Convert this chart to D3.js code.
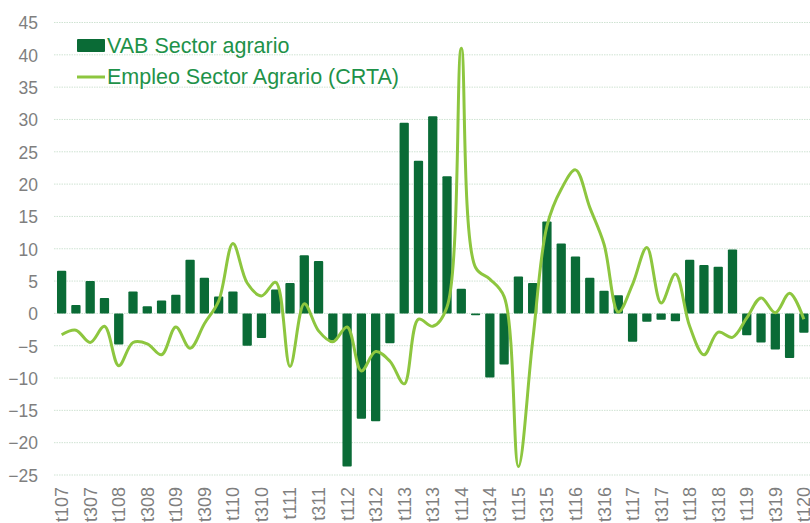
<!DOCTYPE html>
<html>
<head>
<meta charset="utf-8">
<script src="https://cdn.jsdelivr.net/npm/d3@7"></script>
<style>
  body { margin: 0; background: #fff; }
  svg { display: block; font-family: "Liberation Sans", Arial, sans-serif; }
</style>
</head>
<body>
<svg width="810" height="523"></svg>
<script>
var quarters = [
  't107','t207','t307','t407','t108','t208','t308','t408','t109','t209','t309','t409',
  't110','t210','t310','t410','t111','t211','t311','t411','t112','t212','t312','t412',
  't113','t213','t313','t413','t114','t214','t314','t414','t115','t215','t315','t415',
  't116','t216','t316','t416','t117','t217','t317','t417','t118','t218','t318','t418',
  't119','t219','t319','t419','t120'
];

// VAB Sector agrario (bars)
var vab = [
  6.6, 1.3, 5.0, 2.4, -4.8, 3.4, 1.1, 2.0, 2.9, 8.3, 5.5, 2.6,
  3.4, -5.0, -3.8, 3.7, 4.7, 9.0, 8.1, -4.2, -23.7, -16.3, -16.7, -4.6,
  29.5, 23.6, 30.5, 21.2, 3.8, -0.3, -9.9, -7.9, 5.7, 4.7, 14.2, 10.8,
  8.8, 5.5, 3.5, 2.8, -4.4, -1.3, -1.0, -1.2, 8.3, 7.5, 7.2, 9.9,
  -3.4, -4.5, -5.6, -6.9, -3.0
];

// Empleo Sector Agrario (CRTA) (line)
var empleo = [
  -3.3, -2.6, -4.5, -2.0, -8.1, -4.5, -4.7, -6.4, -2.1, -5.4, -1.6, 1.9,
  10.8, 4.7, 2.7, 4.8, -8.2, 1.5, -2.7, -4.4, -2.1, -8.9, -5.9, -7.4,
  -10.9, -0.9, -2.0, 1.0, 41.0, 7.1, 5.3, 2.6, -23.7, -4.3, 13.5, 19.2,
  22.2, 16.4, 10.7, 0.2, 4.5, 10.2, 1.6, 6.1, -2.0, -6.4, -2.9, -3.7,
  -0.7, 2.4, 0.1, 3.1, -0.9
];

var yTicks = [45, 40, 35, 30, 25, 20, 15, 10, 5, 0, -5, -10, -15, -20, -25];

var seriesNames = ['VAB Sector agrario', 'Empleo Sector Agrario (CRTA)'];

var barColor = '#0a6b36';
var lineColor = '#8dc63f';

var svg = d3.select('svg');

var x = d3.scaleBand()
    .domain(quarters)
    .range([54.5, 811])
    .paddingInner(0.35)
    .paddingOuter(0.175);

var y = d3.scaleLinear()
    .domain([-25, 45])
    .range([475, 22.5]);

// grid
svg.append('g')
    .selectAll('line')
    .data(yTicks)
    .enter()
    .append('line')
    .attr('x1', 54)
    .attr('x2', 810)
    .attr('y1', function (d) { return y(d); })
    .attr('y2', function (d) { return y(d); })
    .attr('stroke', '#cfe3d3')
    .attr('stroke-width', 1)
    .attr('stroke-dasharray', '1.5,1');

// y labels
var yAxis = d3.axisLeft(y).tickValues(yTicks).tickSize(0).tickPadding(0);
var gy = svg.append('g')
    .attr('transform', 'translate(38,0)')
    .call(yAxis);
gy.select('.domain').remove();
gy.selectAll('text')
    .attr('fill', '#7f7f7f')
    .style('font-size', '17.5px')
    .attr('dy', '0.36em');

// bars
svg.append('g')
    .selectAll('rect')
    .data(vab)
    .enter()
    .append('rect')
    .attr('x', function (d, i) { return x(quarters[i]); })
    .attr('width', x.bandwidth())
    .attr('y', function (d) { return y(Math.max(0, d)); })
    .attr('height', function (d) { return Math.abs(y(d) - y(0)); })
    .attr('rx', 1)
    .attr('fill', barColor);

// line
var line = d3.line()
    .x(function (d, i) { return x(quarters[i]) + x.bandwidth() / 2; })
    .y(function (d) { return y(d); })
    .curve(d3.curveCatmullRom.alpha(0.5));

svg.append('path')
    .datum(empleo)
    .attr('d', line)
    .attr('fill', 'none')
    .attr('stroke', lineColor)
    .attr('stroke-width', 3)
    .attr('stroke-linejoin', 'round');

// x labels (every other quarter)
var xAxis = d3.axisBottom(x)
    .tickValues(quarters.filter(function (d, i) { return i % 2 === 0; }))
    .tickSize(0)
    .tickPadding(0);
var gx = svg.append('g')
    .attr('transform', 'translate(0,487)')
    .call(xAxis);
gx.select('.domain').remove();
gx.selectAll('text')
    .attr('fill', '#7f7f7f')
    .style('font-size', '18px')
    .attr('text-anchor', 'end')
    .attr('transform', 'rotate(-90)')
    .attr('x', 0)
    .attr('y', 0)
    .attr('dy', '0.36em');

// legend
var legend = svg.append('g');
legend.append('rect')
    .attr('x', 77).attr('y', 39)
    .attr('width', 28).attr('height', 13)
    .attr('rx', 1)
    .attr('fill', barColor);
legend.append('line')
    .attr('x1', 77).attr('x2', 105)
    .attr('y1', 77).attr('y2', 77)
    .attr('stroke', lineColor)
    .attr('stroke-width', 3);
legend.selectAll('text')
    .data(seriesNames)
    .enter()
    .append('text')
    .attr('x', 107)
    .attr('y', function (d, i) { return 53 + i * 31; })
    .attr('fill', '#1e9249')
    .style('font-size', '21.5px')
    .text(function (d) { return d; });
</script>
</body>
</html>
